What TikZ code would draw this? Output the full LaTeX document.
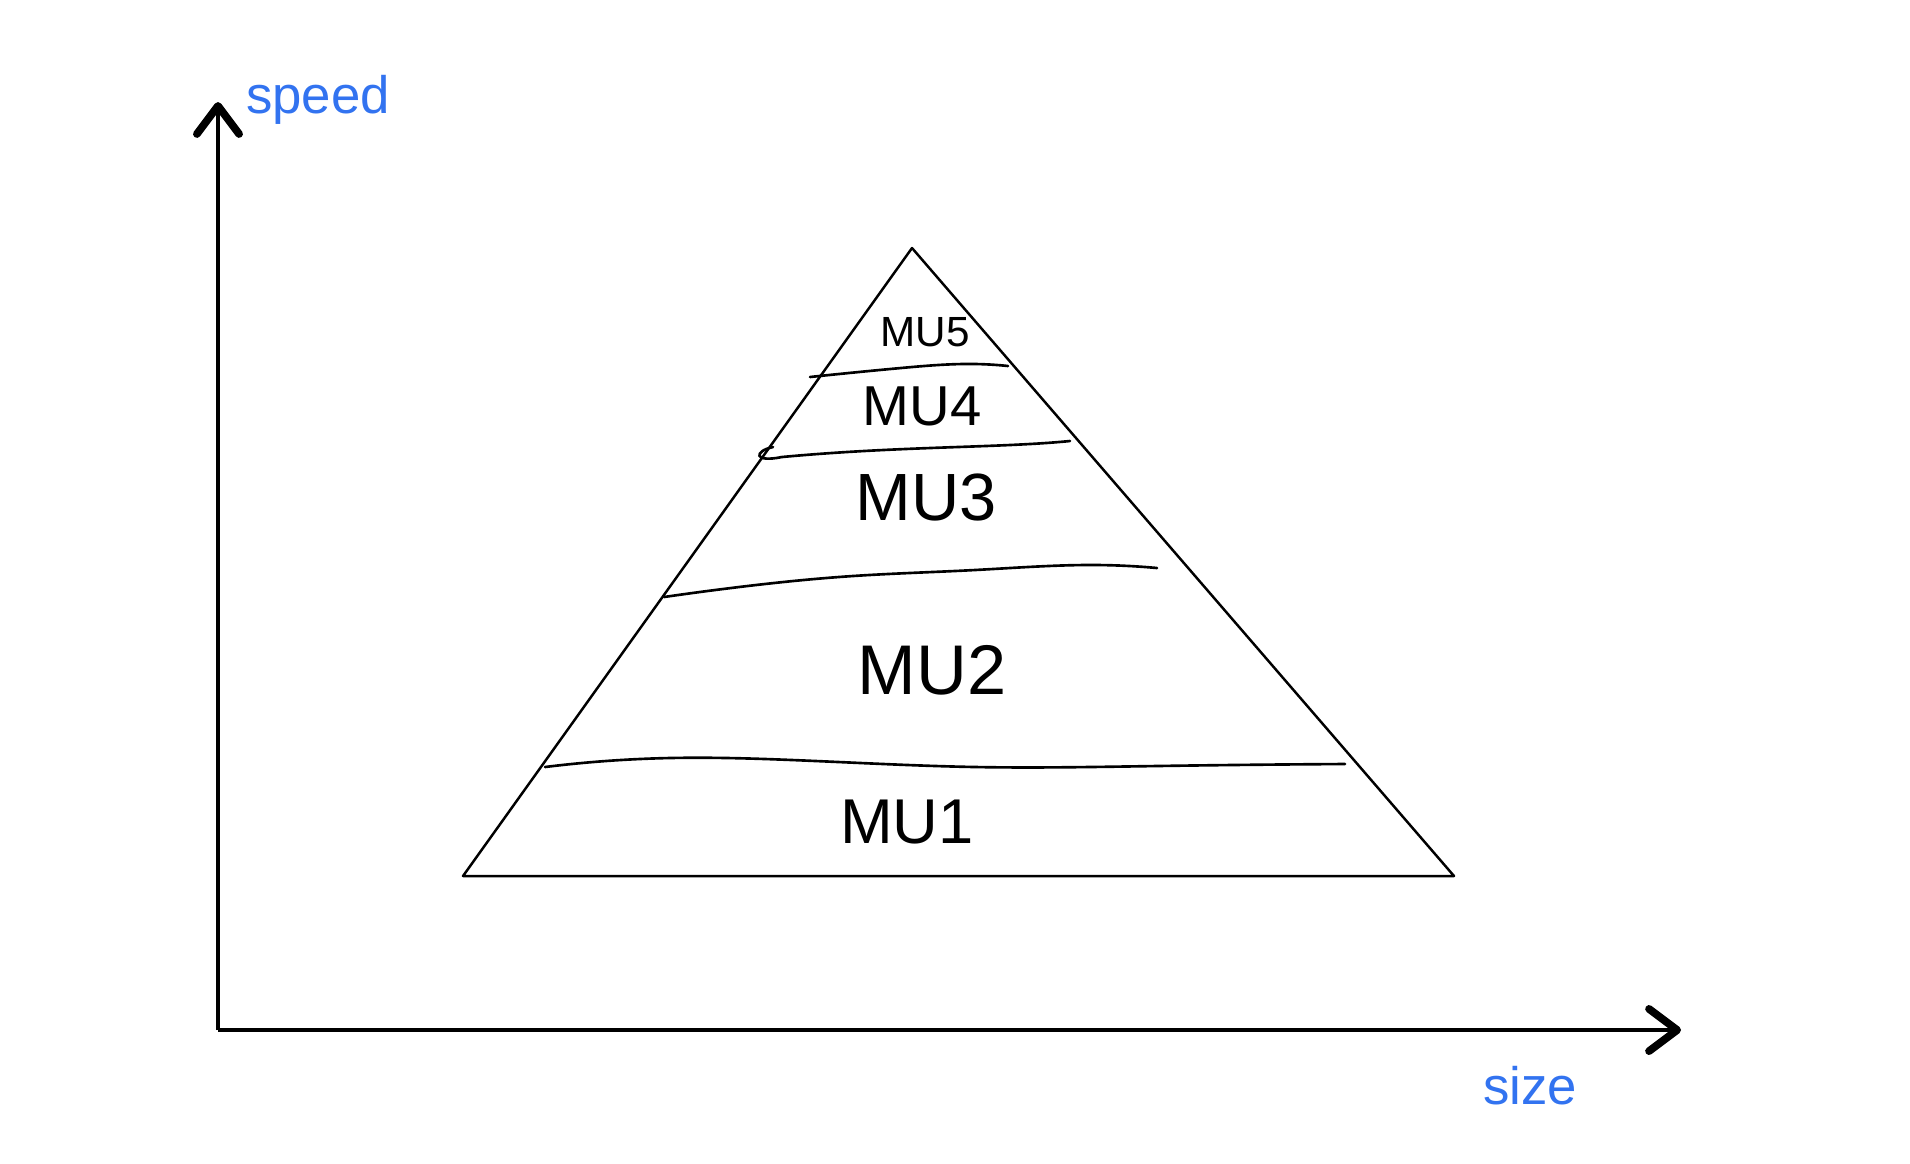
\documentclass[tikz,border=0pt]{standalone}
\usepackage{fontspec}
\setmainfont{Liberation Sans}
\usetikzlibrary{hobby,arrows.meta}
\definecolor{inkblue}{RGB}{50,115,240}
\tikzset{
    axis line/.style={
        line width=0.9pt,
        black,
        -{Straight Barb[length=8pt, width=12pt, line width=2.2pt, round]}
    },
    pyramid edge/.style={
        line width=0.7pt,
        line join=round
    },
    layer line/.style={
        line width=0.75pt,
        line cap=round
    },
    layer label/.style={
        inner sep=0pt
    },
    axis label/.style={
        inner sep=0pt,
        text=inkblue,
        font=\fontsize{15}{18}\selectfont
    }
}
\begin{document}
\begin{tikzpicture}[x=0.01cm, y=-0.01cm, use Hobby shortcut]
                \useasboundingbox (0,0) rectangle (1910,1163);
                % axes
                \coordinate (O) at (218,1030);
                \coordinate (Ytop) at (218,102);
                \coordinate (Xend) at (1681,1030);
                \draw [axis line] (O) -- (Ytop);
                \draw [axis line] (O) -- (Xend);
                \node [axis label] (speed) at (318,100) {speed};
                \node [axis label] (size) at (1530,1086) {size};

                % pyramid
                \coordinate (T1) at (912,248);
                \coordinate (T2) at (463,876);
                \coordinate (T3) at (1454,876);
                \draw [pyramid edge] (T1) -- (T2) -- (T3) -- cycle;

                % layer lines
                \draw [layer line] (810,377)..(901,368)..(975,364)..(1008,366);
                \draw [layer line] (773,447) .. controls (754,451) and (753,463) .. (782,457)
                    .. controls (900,446) and (1000,448) .. (1070,441);
                \draw [layer line] (664,597)..(731,588)..(853,576)..(975,570)..(1096,565)..(1157,568);
                \draw [layer line] (545,767)..(670,758)..(792,760)..(975,767)..(1157,766)..(1345,764);

                % labels
                \node [layer label, font=\fontsize{12}{14}\selectfont] (MU5) at (925,332) {MU5};
                \node [layer label, font=\fontsize{16}{19}\selectfont] (MU4) at (922,406) {MU4};
                \node [layer label, font=\fontsize{19}{22}\selectfont] (MU3) at (926,497) {MU3};
                \node [layer label, font=\fontsize{20}{24}\selectfont] (MU2) at (932,670) {MU2};
                \node [layer label, font=\fontsize{18}{22}\selectfont] (MU1) at (907,822) {MU1};
\end{tikzpicture}
\end{document}
